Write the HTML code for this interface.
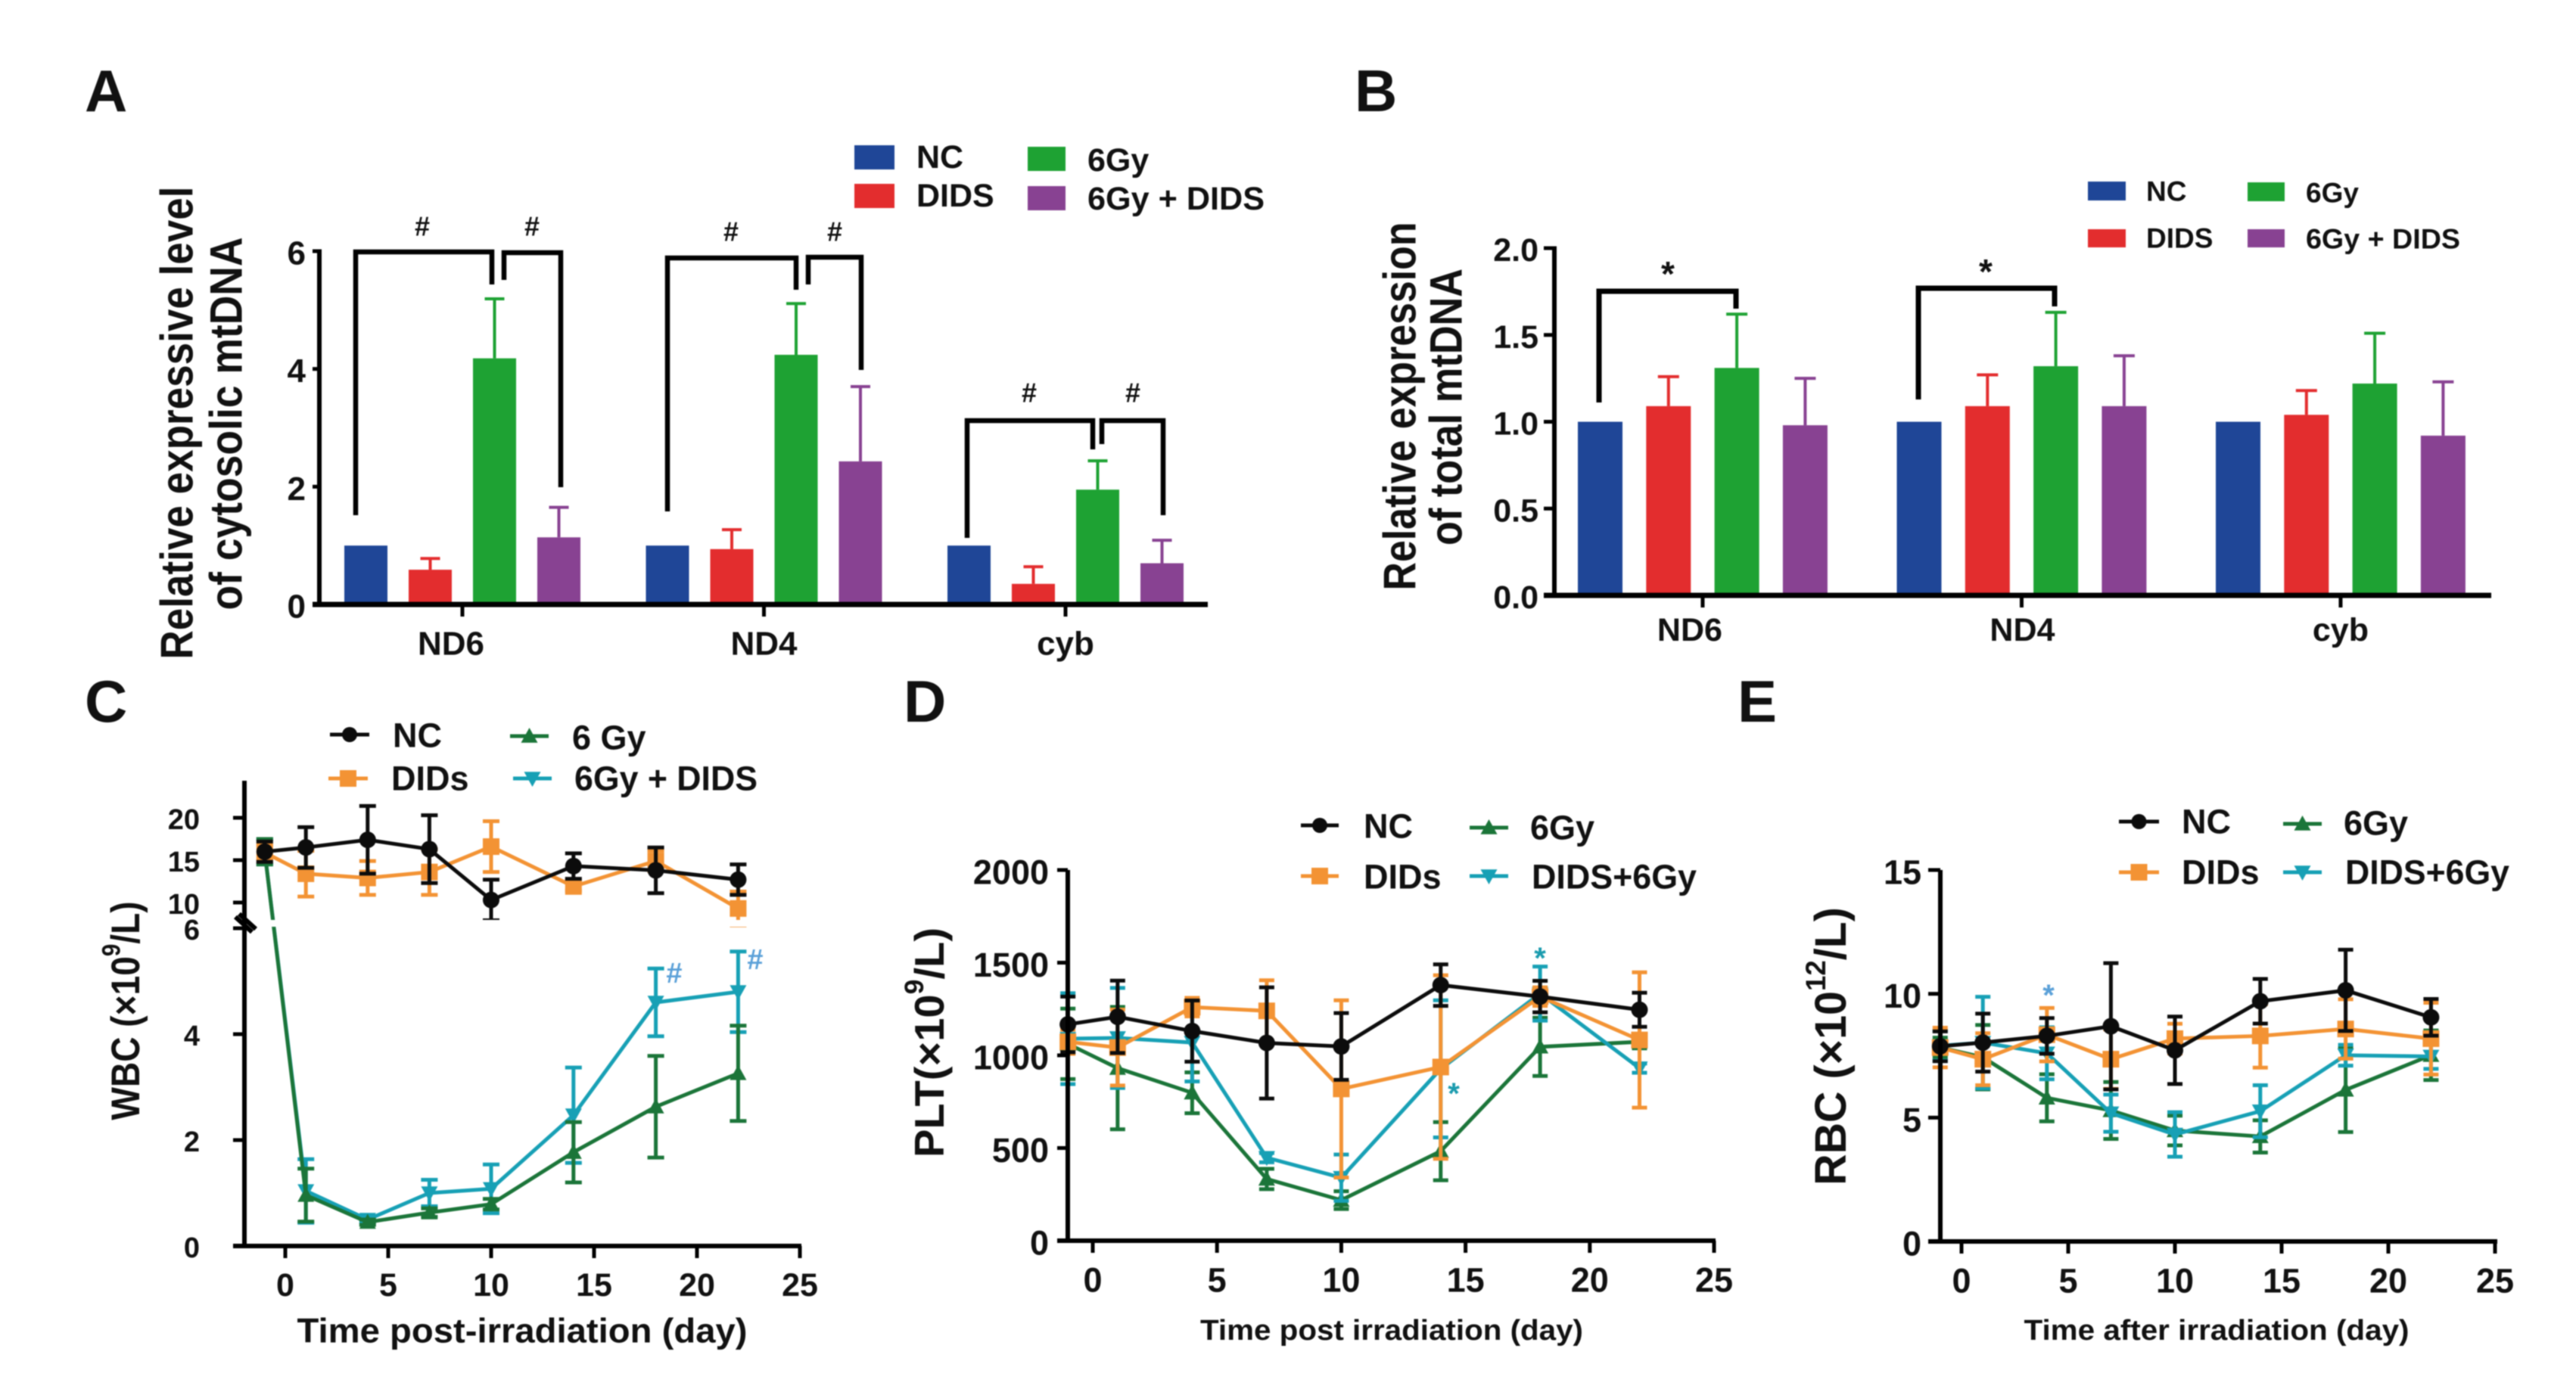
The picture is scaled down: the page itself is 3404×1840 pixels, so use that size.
<!DOCTYPE html>
<html lang="en">
<head>
<meta charset="utf-8">
<title>Panels A to E: mtDNA expression and blood counts</title>
<style>
html,body{margin:0;padding:0;background:#fff}
svg{display:block;filter:blur(.8px)}
text{font-family:"Liberation Sans",Arial,sans-serif;font-weight:bold;fill:#111}
.mid{text-anchor:middle;dominant-baseline:central}
.start{text-anchor:start;dominant-baseline:central}
.letter{font-size:78px;text-anchor:start;dominant-baseline:alphabetic}
</style>
</head>
<body>
<svg id="fig" xmlns="http://www.w3.org/2000/svg" width="3404" height="1840" viewBox="0 0 3404 1840">
<rect width="3404" height="1840" fill="#fff"/>

<text class="letter" x="112" y="147">A</text>
<text class="letter" x="1790" y="147">B</text>
<text class="letter" x="112" y="954">C</text>
<text class="letter" x="1194" y="954">D</text>
<text class="letter" x="2296" y="954">E</text>

<!-- Panel A static -->
<g id="panelA">
  <text class="mid" transform="translate(234,559) rotate(-90)" font-size="60" textLength="625" lengthAdjust="spacingAndGlyphs">Relative expressive level</text>
  <text class="mid" transform="translate(299,560) rotate(-90)" font-size="60" textLength="493" lengthAdjust="spacingAndGlyphs">of cytosolic mtDNA</text>
  <g>
    <rect x="1129" y="192" width="53" height="32" fill="#1f4697"/>
    <rect x="1129" y="243" width="53" height="32" fill="#e32d2e"/>
    <rect x="1358" y="194" width="50" height="32" fill="#1ea233"/>
    <rect x="1358" y="246" width="50" height="32" fill="#884292"/>
    <text class="start" x="1211" y="208" font-size="43">NC</text>
    <text class="start" x="1211" y="259" font-size="43">DIDS</text>
    <text class="start" x="1437" y="212" font-size="43">6Gy</text>
    <text class="start" x="1437" y="263" font-size="43" textLength="234" lengthAdjust="spacingAndGlyphs">6Gy + DIDS</text>
  </g>
  <g fill="none" stroke="#000" stroke-width="6.5">
    <path d="M470 681V333H650V376"/>
    <path d="M666 370V334H741V644"/>
    <path d="M882 676V341H1052V383"/>
    <path d="M1068 376V340H1138V489"/>
    <path d="M1278 711V556H1444V594"/>
    <path d="M1456 587V556H1537V681"/>
  </g>
  <g font-size="36">
    <text class="mid" x="558" y="299" font-size="36">#</text>
    <text class="mid" x="703" y="299" font-size="36">#</text>
    <text class="mid" x="966" y="306" font-size="36">#</text>
    <text class="mid" x="1103" y="306" font-size="36">#</text>
    <text class="mid" x="1360" y="519" font-size="36">#</text>
    <text class="mid" x="1497" y="519" font-size="36">#</text>
  </g>
</g>

<!-- Panel B static -->
<g id="panelB">
  <text class="mid" transform="translate(1850,537) rotate(-90)" font-size="60" textLength="487" lengthAdjust="spacingAndGlyphs">Relative expression</text>
  <text class="mid" transform="translate(1911,538) rotate(-90)" font-size="60" textLength="366" lengthAdjust="spacingAndGlyphs">of total mtDNA</text>
  <g>
    <rect x="2759" y="240" width="50" height="25" fill="#1f4697"/>
    <rect x="2759" y="303" width="50" height="24" fill="#e32d2e"/>
    <rect x="2970" y="241" width="49" height="25" fill="#1ea233"/>
    <rect x="2970" y="303" width="49" height="24" fill="#884292"/>
    <text class="start" x="2836" y="253" font-size="37">NC</text>
    <text class="start" x="2836" y="315" font-size="37">DIDS</text>
    <text class="start" x="3047" y="255" font-size="37">6Gy</text>
    <text class="start" x="3047" y="316" font-size="37" textLength="204" lengthAdjust="spacingAndGlyphs">6Gy + DIDS</text>
  </g>
  <g fill="none" stroke="#000" stroke-width="7">
    <path d="M2113 532V385H2294V408"/>
    <path d="M2535 528V381H2715V405"/>
  </g>
  <text class="mid" x="2204" y="362" font-size="46">*</text>
  <text class="mid" x="2624" y="359" font-size="46">*</text>
</g>

<!-- Panel C static -->
<g id="panelC">
  <text class="mid" transform="translate(166,1336) rotate(-90) scale(.87,1)" font-size="53">WBC (×10<tspan font-size="34" dy="-19">9</tspan><tspan dy="19">/L)</tspan></text>
  <text class="mid" x="690" y="1759" font-size="45" textLength="595" lengthAdjust="spacingAndGlyphs">Time post-irradiation (day)</text>
  <g>
    <text class="start" x="519" y="972" font-size="45">NC</text>
    <text class="start" x="517" y="1029" font-size="45">DIDs</text>
    <text class="start" x="756" y="975" font-size="45">6 Gy</text>
    <text class="start" x="759" y="1029" font-size="45" textLength="242" lengthAdjust="spacingAndGlyphs">6Gy + DIDS</text>
  </g>
  <text class="mid" x="891" y="1287" font-size="38" style="fill:#5aa0d8">#</text>
  <text class="mid" x="998" y="1269" font-size="38" style="fill:#5aa0d8">#</text>
</g>

<!-- Panel D static -->
<g id="panelD">
  <text class="mid" transform="translate(1228,1378) rotate(-90) scale(1.02,1)" font-size="55">PLT(×10<tspan font-size="35" dy="-20">9</tspan><tspan dy="20">/L)</tspan></text>
  <text class="mid" x="1839" y="1759" font-size="38" textLength="506" lengthAdjust="spacingAndGlyphs">Time post irradiation (day)</text>
  <g>
    <text class="start" x="1802" y="1092" font-size="45">NC</text>
    <text class="start" x="1802" y="1159" font-size="45">DIDs</text>
    <text class="start" x="2022" y="1094" font-size="45">6Gy</text>
    <text class="start" x="2024" y="1159" font-size="45" textLength="218" lengthAdjust="spacingAndGlyphs">DIDS+6Gy</text>
  </g>
  <text class="mid" x="1921" y="1446" font-size="40" style="fill:#1a9bae">*</text>
  <text class="mid" x="2035" y="1267" font-size="40" style="fill:#1a9bae">*</text>
</g>

<!-- Panel E static -->
<g id="panelE">
  <text class="mid" transform="translate(2420,1383) rotate(-90) scale(.99,1)" font-size="58">RBC (×10<tspan font-size="37" dy="-21">12</tspan><tspan dy="21">/L)</tspan></text>
  <text class="mid" x="2929" y="1759" font-size="38" textLength="509" lengthAdjust="spacingAndGlyphs">Time after irradiation (day)</text>
  <g>
    <text class="start" x="2883" y="1086" font-size="45">NC</text>
    <text class="start" x="2883" y="1153" font-size="45">DIDs</text>
    <text class="start" x="3097" y="1088" font-size="45">6Gy</text>
    <text class="start" x="3099" y="1153" font-size="45" textLength="217" lengthAdjust="spacingAndGlyphs">DIDS+6Gy</text>
  </g>
  <text class="mid" x="2707" y="1316" font-size="40" style="fill:#5aa0d8">*</text>
</g>
</svg>

<script>
/* ---------- bar chart data ---------- */
const barCategories = ['ND6', 'ND4', 'cyb'];

const aTicks = ['0', '2', '4', '6'];
const aNC = [1, 1, 1];
const aDIDS = [0.59, 0.94, 0.35];
const aGy = [4.18, 4.24, 1.95];
const aGyDIDS = [1.14, 2.43, 0.70];
const aNCErr = [0, 0, 0];
const aDIDSErr = [0.19, 0.33, 0.29];
const aGyErr = [1.01, 0.87, 0.49];
const aGyDIDSErr = [0.51, 1.27, 0.39];

const bTicks = ['0.0', '0.5', '1.0', '1.5', '2.0'];
const bNC = [1, 1, 1];
const bDIDS = [1.09, 1.09, 1.04];
const bGy = [1.31, 1.32, 1.22];
const bGyDIDS = [0.98, 1.09, 0.92];
const bNCErr = [0, 0, 0];
const bDIDSErr = [0.17, 0.18, 0.14];
const bGyErr = [0.31, 0.31, 0.29];
const bGyDIDSErr = [0.27, 0.29, 0.31];

/* ---------- line chart data ---------- */
const days = [-1, 1, 4, 7, 10, 14, 18, 22];
const xTicks = ['0', '5', '10', '15', '20', '25'];

const cTicksLower = ['0', '2', '4', '6'];
const cTicksUpper = ['10', '15', '20'];
const wbcNC = [16, 16.5, 17.4, 16.3, 10.3, 14.3, 13.8, 12.7];
const wbcNCErr = [1.2, 2.4, 4, 4, 2.4, 1.5, 2.7, 1.8];
const wbcDIDs = [15.9, 13.4, 12.9, 13.6, 16.6, 11.9, 14.9, 9.3];
const wbcDIDsErr = [1, 2.7, 2, 2.7, 3, 0.5, 1.2, 2];
const wbcGy = [16, 0.96, 0.45, 0.63, 0.79, 1.77, 2.63, 3.26];
const wbcGyErr = [1.5, 0.5, 0.05, 0.08, 0.1, 0.57, 0.96, 0.9];
const wbcGyDIDS = [16, 1.04, 0.5, 1.0, 1.08, 2.47, 4.6, 4.8];
const wbcGyDIDSErr = [1.5, 0.6, 0.05, 0.25, 0.46, 0.9, 0.64, 0.76];

const dTicks = ['0', '500', '1000', '1500', '2000'];
const pltNC = [1167, 1208, 1131, 1067, 1048, 1379, 1317, 1246];
const pltNCErr = [150, 195, 165, 300, 180, 112, 85, 92];
const pltDIDs = [1073, 1042, 1260, 1240, 819, 937, 1317, 1083];
const pltDIDsErr = [65, 205, 50, 165, 478, 495, 50, 365];
const pltGy = [1062, 931, 798, 333, 219, 483, 1046, 1073];
const pltGyErr = [190, 330, 110, 55, 48, 157, 157, 35];
const pltGyDIDS = [1090, 1094, 1069, 448, 340, 927, 1333, 931];
const pltGyDIDSErr = [245, 270, 210, 25, 125, 370, 146, 25];

const eTicks = ['0', '5', '10', '15'];
const rbcNC = [7.88, 8.03, 8.3, 8.69, 7.72, 9.7, 10.14, 9.05];
const rbcNCErr = [0.6, 1.17, 0.72, 2.55, 1.36, 0.9, 1.64, 0.74];
const rbcDIDs = [7.83, 7.36, 8.35, 7.36, 8.19, 8.3, 8.58, 8.19];
const rbcDIDsErr = [0.8, 1.05, 1.08, 1.2, 0.6, 1.28, 1.2, 1.45];
const rbcGy = [7.83, 7.44, 5.8, 5.29, 4.48, 4.24, 6.12, 7.52];
const rbcGyErr = [0.4, 1.3, 0.95, 1.15, 0.6, 0.65, 1.7, 1.0];
const rbcGyDIDS = [7.9, 8.03, 7.6, 5.18, 4.32, 5.26, 7.52, 7.47];
const rbcGyDIDSErr = [0.6, 1.85, 1.05, 0.75, 0.9, 1.05, 0.42, 0.5];

/* ---------- colours ---------- */
const BLUE = '#1f4697', RED = '#e32d2e', BARGREEN = '#1ea233', PURPLE = '#884292';
const BLACK = '#0c0c0c', ORANGE = '#f39334', DGREEN = '#1b7539', TEAL = '#17a0b5';

/* ---------- helpers ---------- */
const NS = 'http://www.w3.org/2000/svg';
const fig = document.getElementById('fig');
function mk(tag, attrs, parent) {
  const el = document.createElementNS(NS, tag);
  for (const k in attrs) el.setAttribute(k, attrs[k]);
  (parent || fig).appendChild(el);
  return el;
}
function linear(d0, d1, r0, r1) {
  return function (v) { return r0 + (v - d0) * (r1 - r0) / (d1 - d0); };
}
function marker(kind, x, y, size, color, parent) {
  if (kind === 'circle') return mk('circle', { cx: x, cy: y, r: size, fill: color }, parent);
  if (kind === 'square') return mk('rect', { x: x - size, y: y - size, width: 2 * size, height: 2 * size, fill: color }, parent);
  const d = kind === 'up' ? -1 : 1;
  const pts = [x - size, y - d * size * 0.8, x + size, y - d * size * 0.8, x, y + d * size * 1.0].join(' ');
  return mk('polygon', { points: pts, fill: color }, parent);
}
function tickLabel(txt, x, y, size, parent) {
  const t = mk('text', { x: x, y: y, 'font-size': size, class: 'mid' }, parent);
  t.textContent = txt;
  return t;
}
function axisLine(d, w, parent) {
  return mk('path', { d: d, fill: 'none', stroke: '#000', 'stroke-width': w }, parent);
}

/* ---------- bar panel ---------- */
function drawBarPanel(id, cfg, ticks, series) {
  const host = document.getElementById(id);
  const y = linear(0, cfg.yMax, cfg.y0, cfg.yTop);
  const bars = mk('g', {}, host);
  
  
  series.forEach(function (s, si) {
    s.vals.forEach(function (v, ci) {
      const left = cfg.x0 + ci * cfg.groupPitch + si * cfg.barPitch;
      const cx = left + cfg.barW / 2;
      if (s.errs[ci] > 0) {
        const e = mk('path', {
          d: 'M' + cx + ' ' + y(v) + 'V' + y(v + s.errs[ci]) + 'M' + (cx - cfg.cap) + ' ' + y(v + s.errs[ci]) + 'H' + (cx + cfg.cap),
          stroke: s.color, 'stroke-width': 4, fill: 'none'
        }, bars);
        
        
      }
      const r = mk('rect', { x: left, y: y(v), width: cfg.barW, height: cfg.y0 - y(v), fill: s.color }, bars);
      
      
    });
  });
  const ax = mk('g', {}, host);
  
  
  const yAxis = axisLine('M' + cfg.axisX + ' ' + (cfg.yTop - 2.5) + 'V' + cfg.y0, 6, ax);
  
  
  const xAxis = axisLine('M' + cfg.xAxisL + ' ' + cfg.y0 + 'H' + cfg.xAxisR, 7, ax);
  
  
  ticks.forEach(function (t) {
    const ty = y(Number(t));
    const tk = axisLine('M' + cfg.xAxisL + ' ' + ty + 'H' + cfg.axisX, 5, ax);
    
    
    const l = mk('text', { x: cfg.yLabelX, y: ty + 3, 'font-size': cfg.labelSize, 'text-anchor': 'end', 'dominant-baseline': 'central' }, ax);
    l.textContent = t;
    
    
  });
  barCategories.forEach(function (c, ci) {
    const tx = cfg.x0 + ci * cfg.groupPitch + 1.5 * cfg.barPitch + cfg.barW / 2;
    const tk = axisLine('M' + tx + ' ' + cfg.y0 + 'V' + (cfg.y0 + 16), 5, ax);
    
    
    const l = tickLabel(c, tx + cfg.labelShift[ci], cfg.catY, cfg.labelSize, ax);
    
    
  });
}

drawBarPanel('panelA',
  { x0: 455, groupPitch: 398.5, barPitch: 85, barW: 57, cap: 13, y0: 799, yTop: 332, yMax: 6, axisX: 422, xAxisL: 413, xAxisR: 1596, yLabelX: 404, labelSize: 44, catY: 851, labelShift: [-15, 0, 0] },
  aTicks,
  [
    { key: 'nc', vals: aNC, errs: aNCErr, color: BLUE },
    { key: 'dids', vals: aDIDS, errs: aDIDSErr, color: RED },
    { key: '6gy', vals: aGy, errs: aGyErr, color: BARGREEN },
    { key: '6gy-dids', vals: aGyDIDS, errs: aGyDIDSErr, color: PURPLE }
  ]);

drawBarPanel('panelB',
  { x0: 2085, groupPitch: 421.5, barPitch: 90.3, barW: 59, cap: 14, y0: 787, yTop: 328, yMax: 2, axisX: 2054, xAxisL: 2040, xAxisR: 3292, yLabelX: 2033, labelSize: 43, catY: 833, labelShift: [-17, 1, 0] },
  bTicks,
  [
    { key: 'nc', vals: bNC, errs: bNCErr, color: BLUE },
    { key: 'dids', vals: bDIDS, errs: bDIDSErr, color: RED },
    { key: '6gy', vals: bGy, errs: bGyErr, color: BARGREEN },
    { key: '6gy-dids', vals: bGyDIDS, errs: bGyDIDSErr, color: PURPLE }
  ]);

/* ---------- line panels ---------- */
function drawSeries(host, s, xf, yf, cfg) {
  const g = mk('g', {}, host);
  
  
  s.vals.forEach(function (v, i) {
    const x = xf(days[i]);
    const yT = yf(v + s.errs[i]);
    const yB = yf(v - s.errs[i]);
    const e = mk('path', {
      d: 'M' + x + ' ' + yT + 'V' + yB + 'M' + (x - cfg.cap) + ' ' + yT + 'H' + (x + cfg.cap) + 'M' + (x - cfg.cap) + ' ' + yB + 'H' + (x + cfg.cap),
      fill: 'none', stroke: s.color, 'stroke-width': cfg.errW
    }, g);
    
    
  });
  const pts = s.vals.map(function (v, i) { return xf(days[i]) + ',' + yf(v); }).join(' ');
  const line = mk('polyline', { points: pts, fill: 'none', stroke: s.color, 'stroke-width': cfg.lineW }, g);
  
  
  s.vals.forEach(function (v, i) {
    const m = marker(s.kind, xf(days[i]), yf(v), cfg.markerSize[s.kind], s.color, g);
    
    
  });
}

function drawLineAxes(host, cfg, xf, yf, yLabels) {
  const ax = mk('g', {}, host);
  
  
  const yAxis = axisLine('M' + cfg.axisX + ' ' + cfg.yTop + 'V' + cfg.y0, 6, ax);
  
  
  const xAxis = axisLine('M' + cfg.xAxisL + ' ' + cfg.y0 + 'H' + cfg.xAxisR, 6, ax);
  
  
  yLabels.forEach(function (t) {
    const ty = yf(Number(t));
    const tk = axisLine('M' + cfg.xAxisL + ' ' + ty + 'H' + cfg.axisX, 5, ax);
    
    
    const l = mk('text', { x: cfg.yLabelX, y: ty + 3, 'font-size': cfg.yLabelSize, 'text-anchor': 'end', 'dominant-baseline': 'central' }, ax);
    l.textContent = t;
    
    
  });
  xTicks.forEach(function (t) {
    const tx = xf(Number(t));
    const tk = axisLine('M' + tx + ' ' + cfg.y0 + 'V' + (cfg.y0 + 16), 5, ax);
    
    
    const l = tickLabel(t, tx, cfg.xLabelY, cfg.xLabelSize, ax);
    
    
  });
}

function legendKey(host, name, x0, x1, y, color, kind, size) {
  const g = mk('g', {}, host);
  
  
  mk('path', { d: 'M' + x0 + ' ' + y + 'H' + x1, stroke: color, 'stroke-width': 5, fill: 'none' }, g);
  marker(kind, (x0 + x1) / 2, y, size, color, g);
}

/* Panel C */
(function () {
  const host = document.getElementById('panelC');
  const xf = linear(0, 25, 377, 1057);
  const lower = linear(0, 6, 1647, 1227);
  const upper = linear(10, 20, 1193, 1081);
  const yf = function (v) { return v > 6 ? upper(v) : lower(v); };
  const cfg = { prefix: 'c', axisX: 323, yTop: 1032, y0: 1647, xAxisL: 308, xAxisR: 1059, yLabelX: 264, yLabelSize: 38, xLabelY: 1699, xLabelSize: 43, cap: 11, errW: 5, lineW: 5, markerSize: { circle: 11, square: 11, up: 11, down: 11 } };
  drawSeries(host, { key: '6gy-dids', vals: wbcGyDIDS, errs: wbcGyDIDSErr, color: TEAL, kind: 'down' }, xf, yf, cfg);
  drawSeries(host, { key: '6gy', vals: wbcGy, errs: wbcGyErr, color: DGREEN, kind: 'up' }, xf, yf, cfg);
  drawSeries(host, { key: 'dids', vals: wbcDIDs, errs: wbcDIDsErr, color: ORANGE, kind: 'square' }, xf, yf, cfg);
  drawSeries(host, { key: 'nc', vals: wbcNC, errs: wbcNCErr, color: BLACK, kind: 'circle' }, xf, yf, cfg);
  const gap = mk('rect', { x: 330, y: 1216, width: 730, height: 9, fill: '#fff' }, host);
  
  
  drawLineAxes(host, cfg, xf, yf, cTicksLower.concat(cTicksUpper));
  const brk = mk('path', { d: 'M311 1212L333 1232M316 1208L338 1228', stroke: '#000', 'stroke-width': 6, fill: 'none' }, host);
  
  
  legendKey(host, 'c-legend-key-nc', 436, 488, 971, BLACK, 'circle', 10);
  legendKey(host, 'c-legend-key-dids', 434, 486, 1029, ORANGE, 'square', 11);
  legendKey(host, 'c-legend-key-6gy', 674, 725, 973, DGREEN, 'up', 11);
  legendKey(host, 'c-legend-key-6gy-dids', 678, 729, 1029, TEAL, 'down', 11);
})();

/* Panel D */
(function () {
  const host = document.getElementById('panelD');
  const xf = linear(0, 25, 1444, 2265);
  const yf = linear(0, 2000, 1640, 1150);
  const cfg = { prefix: 'd', axisX: 1411, yTop: 1150, y0: 1640, xAxisL: 1397, xAxisR: 2267, yLabelX: 1386, yLabelSize: 45, xLabelY: 1692, xLabelSize: 45, cap: 10, errW: 5, lineW: 5, markerSize: { circle: 11, square: 11, up: 11, down: 11 } };
  drawSeries(host, { key: '6gy', vals: pltGy, errs: pltGyErr, color: DGREEN, kind: 'up' }, xf, yf, cfg);
  drawSeries(host, { key: 'dids-6gy', vals: pltGyDIDS, errs: pltGyDIDSErr, color: TEAL, kind: 'down' }, xf, yf, cfg);
  drawSeries(host, { key: 'dids', vals: pltDIDs, errs: pltDIDsErr, color: ORANGE, kind: 'square' }, xf, yf, cfg);
  drawSeries(host, { key: 'nc', vals: pltNC, errs: pltNCErr, color: BLACK, kind: 'circle' }, xf, yf, cfg);
  drawLineAxes(host, cfg, xf, yf, dTicks);
  legendKey(host, 'd-legend-key-nc', 1719, 1769, 1091, BLACK, 'circle', 10);
  legendKey(host, 'd-legend-key-dids', 1719, 1769, 1158, ORANGE, 'square', 11);
  legendKey(host, 'd-legend-key-6gy', 1942, 1993, 1094, DGREEN, 'up', 11);
  legendKey(host, 'd-legend-key-dids-6gy', 1942, 1993, 1158, TEAL, 'down', 11);
})();

/* Panel E */
(function () {
  const host = document.getElementById('panelE');
  const xf = linear(0, 25, 2592, 3297);
  const yf = linear(0, 15, 1641, 1150);
  const cfg = { prefix: 'e', axisX: 2564, yTop: 1150, y0: 1641, xAxisL: 2548, xAxisR: 3300, yLabelX: 2539, yLabelSize: 45, xLabelY: 1693, xLabelSize: 45, cap: 10, errW: 5, lineW: 5, markerSize: { circle: 11, square: 11, up: 11, down: 11 } };
  drawSeries(host, { key: '6gy', vals: rbcGy, errs: rbcGyErr, color: DGREEN, kind: 'up' }, xf, yf, cfg);
  drawSeries(host, { key: 'dids-6gy', vals: rbcGyDIDS, errs: rbcGyDIDSErr, color: TEAL, kind: 'down' }, xf, yf, cfg);
  drawSeries(host, { key: 'dids', vals: rbcDIDs, errs: rbcDIDsErr, color: ORANGE, kind: 'square' }, xf, yf, cfg);
  drawSeries(host, { key: 'nc', vals: rbcNC, errs: rbcNCErr, color: BLACK, kind: 'circle' }, xf, yf, cfg);
  drawLineAxes(host, cfg, xf, yf, eTicks);
  legendKey(host, 'e-legend-key-nc', 2800, 2853, 1086, BLACK, 'circle', 10);
  legendKey(host, 'e-legend-key-dids', 2800, 2853, 1153, ORANGE, 'square', 11);
  legendKey(host, 'e-legend-key-6gy', 3017, 3068, 1089, DGREEN, 'up', 11);
  legendKey(host, 'e-legend-key-dids-6gy', 3017, 3068, 1153, TEAL, 'down', 11);
})();
</script>
</body>
</html>
